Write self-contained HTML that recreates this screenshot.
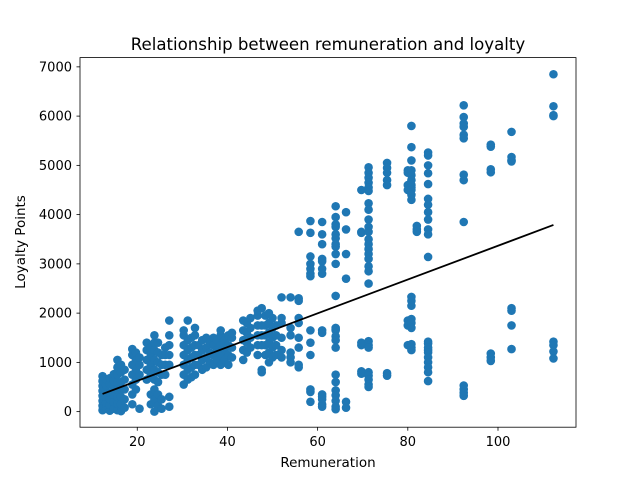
<!DOCTYPE html>
<html><head><meta charset="utf-8"><style>
body{margin:0;background:#fff;}
svg text{font-family:"DejaVu Sans","Liberation Sans",sans-serif;fill:#000;}
</style></head><body>
<svg id="chart" width="640" height="480" xmlns="http://www.w3.org/2000/svg">
<rect width="640" height="480" fill="#fff"/>
<text x="328" y="50" font-size="16.6" text-anchor="middle">Relationship between remuneration and loyalty</text>
<g id="marks"></g>
<rect x="80" y="57.6" width="496" height="369.6" fill="none" stroke="#000" stroke-width="0.8"/>
<g id="axes"></g>
<text x="328" y="467" font-size="13.5" text-anchor="middle">Remuneration</text>
<text transform="translate(25,242) rotate(-90)" font-size="13.5" text-anchor="middle">Loyalty Points</text>
</svg>
<script>
const xTicks=[20,40,60,80,100];
const yTicks=[0,1000,2000,3000,4000,5000,6000,7000];
const fitCoef=[34.3,-62];
const fitRange=[12.3,112.3];
const colX=[12.3,13.1,13.9,14.8,15.6,16.4,17.2,18.9,19.7,20.5,22.1,23.0,23.8,24.6,25.4,26.2,27.1,30.3,31.2,32.0,32.8,33.6,34.4,35.3,36.1,36.9,37.7,38.5,39.4,40.2,41.0,43.5,44.3,45.1,46.7,47.6,48.4,49.2,50.0,50.8,
52,54,55.8,58.4,61,64,66.3,69.7,71.3,75.4,80,80.8,82,84.5,92.4,98.4,103,112.3];
const colY=[
[30,120,220,320,420,520,620,720],
[60,180,300,420,540,660],
[20,140,260,380,560,680],
[60,200,340,480,620,760],
[30,160,300,450,600,750,900,1050],
[10,150,300,450,600,800,950],
[80,250,450,650,850],
[150,350,550,750,950,1150,1270],
[450,650,850,1050,1200],
[60,750,950,1100],
[650,850,1050,1250,1400],
[150,350,750,950,1150,1300],
[0,250,450,650,850,1050,1250,1400,1550],
[120,350,600,800,1000,1200,1400],
[60,250,750,950,1150],
[750,950,1150,1300],
[100,300,950,1150,1350,1550,1850],
[550,750,950,1150,1350,1550,1650],
[650,850,1050,1250,1450,1850],
[700,900,1100,1300,1500],
[750,950,1150,1350,1550,1700],
[950,1150,1350],
[850,1050,1250,1450],
[900,1100,1300,1500],
[1000,1200,1400],
[950,1150,1350,1500],
[1050,1250,1450],
[950,1150,1350,1550,1650],
[1050,1250,1450],
[950,1150,1350,1550],
[1100,1300,1500,1600],
[1050,1250,1450,1650,1850],
[1200,1400,1600,1800],
[1300,1500,1700,1900],
[1150,1350,1550,1750,1950,2050],
[800,850,1350,1550,1750,2100],
[1150,1350,1550,1750,1950],
[1000,1200,1400,1600,1800,2000],
[1100,1300,1500,1700,1900],
[1150,1350,1550,1750],
[2320,1900,1800,1500,1250,1100],
[2320,1700,1550,1200,1100,1000],
[3650,2300,2250,1900,1800,1500,1300,900,950],
[3870,3630,3150,3000,2900,2800,2750,1650,1400,1150,450,400,200],
[3850,3600,3400,3100,3050,2900,2800,1600,1650,350,300,250,150,100],
[4170,3950,3800,3750,3600,3520,3400,3350,3200,3000,2350,1700,1670,1650,1530,1450,1300,750,600,430,330,220,100,50],
[4050,3700,3200,2700,200,80],
[4500,3650,3630,1350,1400,820,770],
[4960,4850,4750,4650,4550,4480,4230,4100,3900,3750,3650,3500,3400,3300,3200,3100,2950,2850,2600,1430,1350,1300,800,730,650,550,500],
[5050,4950,4850,4700,4600,780,730],
[4900,4850,4600,4500,1850,1750,1350],
[5800,5370,5100,4900,4800,4700,4600,4550,4500,4400,4300,2330,2250,2150,1880,1800,1700,1370,1300,1250],
[3770,3700,3650],
[5260,5200,5000,4840,4620,4320,4200,4050,3900,3700,3600,3140,1420,1380,1300,1250,1200,1100,1000,900,800,620],
[6220,5980,5850,5780,5620,5550,4810,4700,3850,530,450,380,320],
[5420,5380,4920,4860,1180,1100,1030],
[5680,5170,5100,5080,2100,2050,1750,1270],
[6850,6200,6020,6000,1420,1350,1220,1080]
];
const NS="http://www.w3.org/2000/svg";
const X0=80,X1=576,Y0=427.2,Y1=57.6,XMIN=7.3,XMAX=117.3,YMIN=-316,YMAX=7188;
function sx(v){return X0+(v-XMIN)/(XMAX-XMIN)*(X1-X0);}
function sy(v){return Y0-(v-YMIN)/(YMAX-YMIN)*(Y0-Y1);}
const marks=document.getElementById('marks'),axes=document.getElementById('axes');
colX.forEach((x,i)=>{colY[i].forEach(y=>{
 const c=document.createElementNS(NS,'circle');
 c.setAttribute('cx',sx(x));c.setAttribute('cy',sy(y));c.setAttribute('r',4.3);c.setAttribute('fill','#1f77b4');
 
 
 marks.appendChild(c);});});
const ln=document.createElementNS(NS,'line');
ln.setAttribute('x1',sx(fitRange[0]));ln.setAttribute('y1',sy(fitCoef[0]*fitRange[0]+fitCoef[1]));
ln.setAttribute('x2',sx(fitRange[1]));ln.setAttribute('y2',sy(fitCoef[0]*fitRange[1]+fitCoef[1]));
ln.setAttribute('stroke','#000');ln.setAttribute('stroke-width','1.8');


marks.appendChild(ln);
xTicks.forEach(t=>{
 const l=document.createElementNS(NS,'line');
 l.setAttribute('x1',sx(t));l.setAttribute('x2',sx(t));l.setAttribute('y1',Y0);l.setAttribute('y2',Y0+3.5);l.setAttribute('stroke','#000');l.setAttribute('stroke-width','0.8');
 
 
 axes.appendChild(l);
 const tx=document.createElementNS(NS,'text');
 tx.setAttribute('x',sx(t));tx.setAttribute('y',Y0+19);tx.setAttribute('font-size','13');tx.setAttribute('text-anchor','middle');tx.textContent=t;
 
 
 axes.appendChild(tx);});
yTicks.forEach(t=>{
 const l=document.createElementNS(NS,'line');
 l.setAttribute('x1',X0-3.5);l.setAttribute('x2',X0);l.setAttribute('y1',sy(t));l.setAttribute('y2',sy(t));l.setAttribute('stroke','#000');l.setAttribute('stroke-width','0.8');
 
 
 axes.appendChild(l);
 const tx=document.createElementNS(NS,'text');
 tx.setAttribute('x',X0-8);tx.setAttribute('y',sy(t)+4.6);tx.setAttribute('font-size','13');tx.setAttribute('text-anchor','end');tx.textContent=t;
 
 
 axes.appendChild(tx);});
</script>
</body></html>
